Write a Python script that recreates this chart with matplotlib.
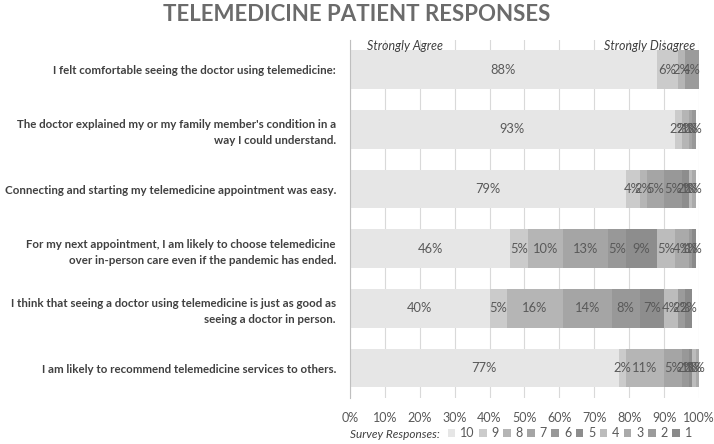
import matplotlib.pyplot as plt
import numpy as np
from matplotlib.patches import Patch

plt.rcParams["font.family"] = ["Lato", "DejaVu Sans"]

questions = [
    "I felt comfortable seeing the doctor using telemedicine:",
    "The doctor explained my or my family member's condition in a\nway I could understand.",
    "Connecting and starting my telemedicine appointment was easy.",
    "For my next appointment, I am likely to choose telemedicine\nover in-person care even if the pandemic has ended.",
    "I think that seeing a doctor using telemedicine is just as good as\nseeing a doctor in person.",
    "I am likely to recommend telemedicine services to others.",
]
responses = ["10", "9", "8", "7", "6", "5", "4", "3", "2", "1"]

# percent per response (10 .. 1) for each question
comfortable = [88, 6, 2, 0, 0, 0, 0, 0, 4, 0]
explained = [93, 2, 2, 1, 1, 0, 0, 0, 0, 0]
connecting = [79, 4, 2, 5, 5, 2, 1, 1, 0, 0]
next_appt = [46, 5, 10, 13, 5, 9, 5, 4, 1, 1]
just_as_good = [40, 5, 16, 14, 8, 7, 4, 0, 2, 2]
recommend = [77, 2, 11, 5, 2, 1, 1, 1, 0, 0]

colors = ["#e6e6e6", "#cbcbcb", "#b5b5b5", "#a5a5a5", "#989898",
          "#8d8d8d", "#bcbcbc", "#aaaaaa", "#9b9b9b", "#8a8a8a"]

data = np.array([comfortable, explained, connecting, next_appt,
                 just_as_good, recommend], dtype=float)

fig = plt.figure(figsize=(7.14, 4.44), dpi=100)
ax = fig.add_axes([0.49, 0.104, 0.489, 0.806])

y = np.arange(len(questions))
left = np.zeros(len(questions))
for j, resp in enumerate(responses):
    vals = data[:, j]
    ax.barh(y, vals, left=left, height=0.65, color=colors[j], zorder=2)
    for i in range(len(questions)):
        if vals[i] > 0:
            ax.text(left[i] + vals[i] / 2, y[i], f"{int(vals[i])}%",
                    ha="center", va="center", fontsize=9.3, color="#595959",
                    zorder=3)
    left += vals

ax.set_xlim(0, 100)
ax.set_ylim(len(questions) - 0.5, -0.5)
ax.set_xticks(np.arange(0, 101, 10))
ax.set_xticklabels([f"{t}%" for t in range(0, 101, 10)])
ax.tick_params(axis="x", length=0, colors="#595959", labelsize=9, pad=10)
ax.set_yticks(y)
ax.set_yticklabels(questions, fontweight="bold", fontsize=8.3, color="#404040",
                   linespacing=1.55)
ax.tick_params(axis="y", length=0, pad=10)
ax.grid(axis="x", color="#d9d9d9", linewidth=0.8, zorder=0)
for s in ["top", "right", "bottom"]:
    ax.spines[s].set_visible(False)
ax.spines["left"].set_color("#bfbfbf")

fig.text(0.5, 0.968, "TELEMEDICINE PATIENT RESPONSES", ha="center", va="center",
         fontsize=16, fontweight="bold", color="#6b6b6b")
fig.text(0.514, 0.897, "Strongly Agree", fontstyle="italic", fontsize=9,
         color="#404040", va="center")
fig.text(0.846, 0.897, "Strongly Disagree", fontstyle="italic", fontsize=9,
         color="#404040", va="center")

handles = [Patch(facecolor=c, edgecolor="none") for c in colors]
fig.text(0.49, 0.022, "Survey Responses:", fontstyle="italic", fontsize=8.5,
         color="#404040", va="center")
fig.legend(handles, responses, loc="center left", bbox_to_anchor=(0.627, 0.024),
           ncol=10, frameon=False, fontsize=9, handlelength=0.6,
           handleheight=0.6, handletextpad=0.4, columnspacing=0.35,
           labelcolor="#595959", borderaxespad=0, borderpad=0)

fig.savefig("out.png", dpi=100)
